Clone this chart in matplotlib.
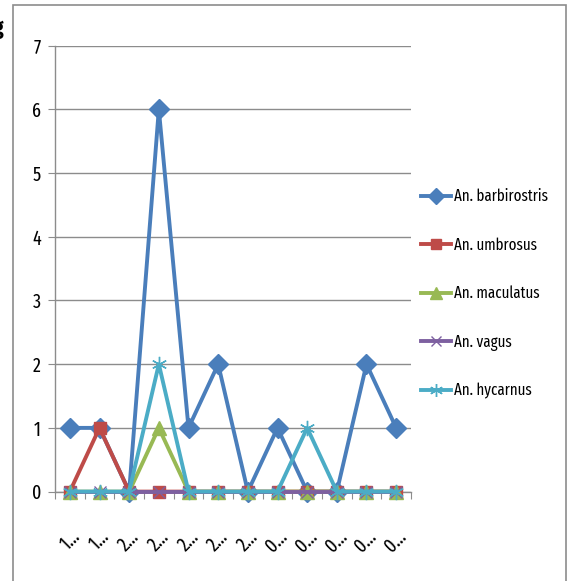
import matplotlib
matplotlib.use("Agg")
import matplotlib.pyplot as plt
from matplotlib import font_manager
from matplotlib.patches import Rectangle

# category labels (truncated dates) and counts per species
categories = ["1…", "1…", "2…", "2…", "2…", "2…", "2…", "0…", "0…", "0…", "0…", "0…"]
barbirostris = [1, 1, 0, 6, 1, 2, 0, 1, 0, 0, 2, 1]
umbrosus = [0, 1, 0, 0, 0, 0, 0, 0, 0, 0, 0, 0]
maculatus = [0, 0, 0, 1, 0, 0, 0, 0, 0, 0, 0, 0]
vagus = [0, 0, 0, 0, 0, 0, 0, 0, 0, 0, 0, 0]
hycarnus = [0, 0, 0, 2, 0, 0, 0, 0, 1, 0, 0, 0]
y_ticks = [0, 1, 2, 3, 4, 5, 6, 7]

# narrow face if one is installed
names = {f.name for f in font_manager.fontManager.ttflist}
for cand in ["Fira Sans Extra Condensed", "Sofia Sans Extra Condensed",
             "Encode Sans Condensed", "Roboto Condensed", "Archivo Narrow",
             "PT Sans Narrow", "Liberation Sans Narrow", "Lato"]:
    if cand in names:
        font = cand
        break
else:
    font = "DejaVu Sans"
plt.rcParams["font.family"] = [font, "DejaVu Sans"]

W, H = 569, 581
fig = plt.figure(figsize=(W / 100, H / 100), dpi=100)

# size the legend text so the longest entry spans ~95 px
renderer = fig.canvas.get_renderer()
probe = fig.text(0, 0, "An. barbirostris", fontsize=10)
fs = 10 * 95 / probe.get_window_extent(renderer).width
probe.remove()
fs = min(fs, 15)
tick_fs = max(fs, 14)

ax = fig.add_axes([55 / W, (H - 491.6) / H, 356 / W, 446 / H])

series = [
    ("An. barbirostris", barbirostris, "#4A7EBB", "D", 10),
    ("An. umbrosus", umbrosus, "#BE4B48", "s", 9),
    ("An. maculatus", maculatus, "#98B954", "^", 10),
    ("An. vagus", vagus, "#7D60A0", "x", 8),
    ("An. hycarnus", hycarnus, "#4BACC6", (6, 2, 0), 11),
]
x = list(range(len(categories)))
for label, vals, color, marker, ms in series:
    ax.plot(x, vals, color=color, lw=2.8, marker=marker, markersize=ms,
            markeredgecolor=color, markeredgewidth=1.0, label=label,
            solid_joinstyle="round", clip_on=False, zorder=3)

ax.set_xlim(-0.5, len(categories) - 0.5)
ax.set_ylim(0, 7)
ax.set_yticks(y_ticks)
ax.set_yticklabels([str(v) for v in y_ticks], fontsize=tick_fs)
ax.grid(axis="y", color="#8c8c8c", lw=1.0)
ax.set_axisbelow(True)

ax.set_xticks([i - 0.5 for i in range(len(categories) + 1)])
ax.set_xticklabels([])
ax.set_xticks(x, minor=True)
ax.set_xticklabels(categories, minor=True, rotation=45, ha="right", va="top",
                   fontsize=tick_fs, rotation_mode="anchor")
ax.tick_params(axis="x", which="minor", length=0, pad=25)
ax.tick_params(axis="x", which="major", length=5, color="#8c8c8c", direction="out")
ax.tick_params(axis="y", length=5, color="#8c8c8c", direction="out", pad=5)

for side in ("top", "right"):
    ax.spines[side].set_visible(False)
for side in ("left", "bottom"):
    ax.spines[side].set_color("#8c8c8c")
    ax.spines[side].set_linewidth(1.0)

fs_px = fs * 100 / 72
ax.legend(loc="center left", bbox_to_anchor=(421 / W, (H - 294) / H),
          bbox_transform=fig.transFigure, frameon=False, fontsize=fs,
          handlelength=30 / fs_px, handletextpad=3 / fs_px,
          labelspacing=52 / fs_px - 1.2, markerscale=0.85, borderpad=0,
          borderaxespad=0)

# outer chart border
fig.patches.append(Rectangle((12.5 / W, -0.05), (566 - 12.5) / W, 1.05 - 5.5 / H,
                             transform=fig.transFigure, fill=False,
                             edgecolor="#8c8c8c", lw=1.2))
fig.text(4 / W, (H - 28) / H, "g", fontsize=15, fontweight="bold",
         ha="right", va="center")

fig.savefig("out.png", dpi=100)
